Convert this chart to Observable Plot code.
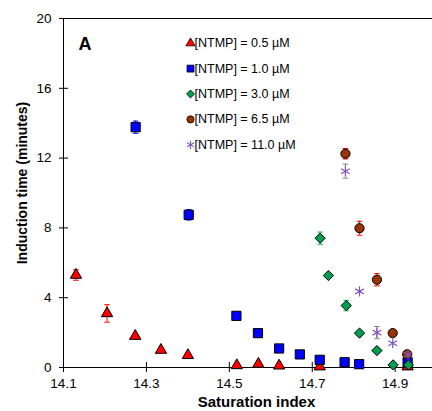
<!DOCTYPE html>
<html><head><meta charset="utf-8">
<script src="https://cdn.jsdelivr.net/npm/d3@7"></script>
<script src="https://cdn.jsdelivr.net/npm/@observablehq/plot@0.6"></script>
<style>
body{margin:0;background:#fff;}
#chart svg{font-family:"Liberation Sans",Arial,sans-serif;}
</style></head><body><div id="chart"></div>
<script>
const seriesNames = ["[NTMP] = 0.5 µM","[NTMP] = 1.0 µM","[NTMP] = 3.0 µM","[NTMP] = 6.5 µM","[NTMP] = 11.0 µM"];
const xTicks = [14.1, 14.3, 14.5, 14.7, 14.9];
const yTicks = [0, 4, 8, 12, 16, 20];
const xDomain = [14.1, 14.99];
const yDomain = [0, 20];

const x05 = [14.13, 14.205, 14.273, 14.335, 14.40, 14.518, 14.57, 14.62, 14.718, 14.93];
const y05 = [5.3, 3.1, 1.8, 1.0, 0.7, 0.12, 0.2, 0.1, 0.05, 0.05];
const e05 = [0.3, 0.5, 0, 0, 0, 0, 0, 0, 0, 0];

const x10 = [14.274, 14.402, 14.517, 14.569, 14.62, 14.67, 14.718, 14.778, 14.813, 14.93];
const y10 = [13.77, 8.75, 2.96, 1.97, 1.09, 0.75, 0.44, 0.3, 0.19, 0.3];
const e10 = [0.35, 0.3, 0.2, 0, 0, 0, 0, 0, 0, 0];

const x30 = [14.719, 14.739, 14.782, 14.814, 14.856, 14.895, 14.932];
const y30 = [7.41, 5.27, 3.55, 1.97, 0.97, 0.15, 0.15];
const e30 = [0.35, 0, 0.3, 0, 0, 0, 0];

const x65 = [14.78, 14.814, 14.856, 14.894, 14.929];
const y65 = [12.25, 7.98, 5.03, 1.97, 0.76];
const e65 = [0.3, 0.4, 0.35, 0, 0];

const x110 = [14.78, 14.814, 14.856, 14.894, 14.931];
const y110 = [11.25, 4.36, 2.0, 1.39, 0.73];
const e110 = [0.4, 0, 0.35, 0, 0];

const colors = ["#ff0000", "#0000ff", "#00a050", "#993300", "#7e57c2"];
const errColors = ["#ff0000", "#0000ff", "#00c060", "#ff0000", "#8a7aa0"];
const symbols = ["triangle", "square", "diamond2", "circle", "asterisk"];
const radii = [4.2, 5.2, 4.6, 4.6, 4.8];
const legendRadii = [3.4, 3.9, 3.6, 3.6, 3.9];

const xs = [x05, x10, x30, x65, x110], ys = [y05, y10, y30, y65, y110], es = [e05, e10, e30, e65, e110];
const series = seriesNames.map((name, i) => xs[i].map((x, j) => ({name, x, y: ys[i][j], e: es[i][j]})));

const capSymbol = {draw(ctx, size) { const w = Math.sqrt(size / Math.PI); ctx.moveTo(-w, 0); ctx.lineTo(w, 0); }};

const marks = [
  Plot.ruleY([yDomain[1]], {stroke: "#000", strokeWidth: 1}),
  Plot.ruleX([xDomain[0]], {stroke: "#000", strokeWidth: 1}),
  Plot.ruleY([yDomain[0]], {stroke: "#000", strokeWidth: 1}),
  Plot.axisX({ticks: xTicks, tickSize: 5, tickPadding: 6, tickFormat: d => d.toFixed(1), label: null, fontSize: 13.5}),
  Plot.axisX({ticks: xTicks, tickSize: -5, tickFormat: () => "", label: null}),
  Plot.axisY({ticks: yTicks, tickSize: 4, tickPadding: 8, label: null, fontSize: 13.5}),
  Plot.axisY({ticks: yTicks, tickSize: -5, tickFormat: () => "", label: null}),
  Plot.text(["Saturation index"], {frameAnchor: "bottom", dy: 35, dx: 8.5, fontWeight: "bold", fontSize: 15, fill: "#000", lineAnchor: "middle"}),
  Plot.text(["Induction time (minutes)"], {frameAnchor: "left", dx: -40.5, dy: -10, rotate: -90, fontWeight: "bold", fontSize: 14, fill: "#000", lineAnchor: "middle", textAnchor: "middle"}),
  Plot.text(["A"], {frameAnchor: "top-left", dx: 15, dy: 26, fontWeight: "bold", fontSize: 18, fill: "#000", textAnchor: "start", lineAnchor: "middle"})
];

series.forEach((rows, i) => {
  const withErr = rows.filter(d => d.e > 0);
  marks.push(Plot.ruleX(withErr, {x: "x", y1: d => d.y - d.e, y2: d => d.y + d.e, stroke: errColors[i], strokeWidth: 1}));
  marks.push(Plot.dot(withErr, {x: "x", y: d => d.y - d.e, symbol: capSymbol, r: 2.8, stroke: errColors[i], strokeWidth: 1}));
  marks.push(Plot.dot(withErr, {x: "x", y: d => d.y + d.e, symbol: capSymbol, r: 2.8, stroke: errColors[i], strokeWidth: 1}));
  if (symbols[i] === "asterisk") {
    marks.push(Plot.dot(rows, {x: "x", y: "y", symbol: "asterisk", r: radii[i], stroke: colors[i], strokeWidth: 1.2}));
  } else {
    marks.push(Plot.dot(rows, {x: "x", y: "y", symbol: symbols[i], r: radii[i], fill: colors[i], stroke: "#000", strokeWidth: 1}));
  }
  const ldy = 24.7 + i * 25.4;
  if (symbols[i] === "asterisk") {
    marks.push(Plot.dot([seriesNames[i]], {frameAnchor: "top-left", dx: 127, dy: ldy, symbol: "asterisk", r: legendRadii[i], stroke: colors[i], strokeWidth: 1.1}));
  } else {
    marks.push(Plot.dot([seriesNames[i]], {frameAnchor: "top-left", dx: 127, dy: ldy, symbol: symbols[i], r: legendRadii[i], fill: colors[i], stroke: "#000", strokeWidth: 0.8}));
  }
  marks.push(Plot.text([seriesNames[i]], {frameAnchor: "top-left", dx: 131, dy: ldy, text: d => d, fontSize: 12.5, fill: "#000", textAnchor: "start", lineAnchor: "middle"}));
});

const chart = Plot.plot({
  width: 432,
  height: 411,
  marginLeft: 63,
  marginRight: 0,
  marginTop: 18,
  marginBottom: 44,
  style: {fontFamily: "'Liberation Sans', Arial, sans-serif", fontSize: "13.5px", color: "#000", background: "#fff"},
  x: {domain: xDomain},
  y: {domain: yDomain},
  marks
});
document.getElementById("chart").appendChild(chart);
</script></body></html>
